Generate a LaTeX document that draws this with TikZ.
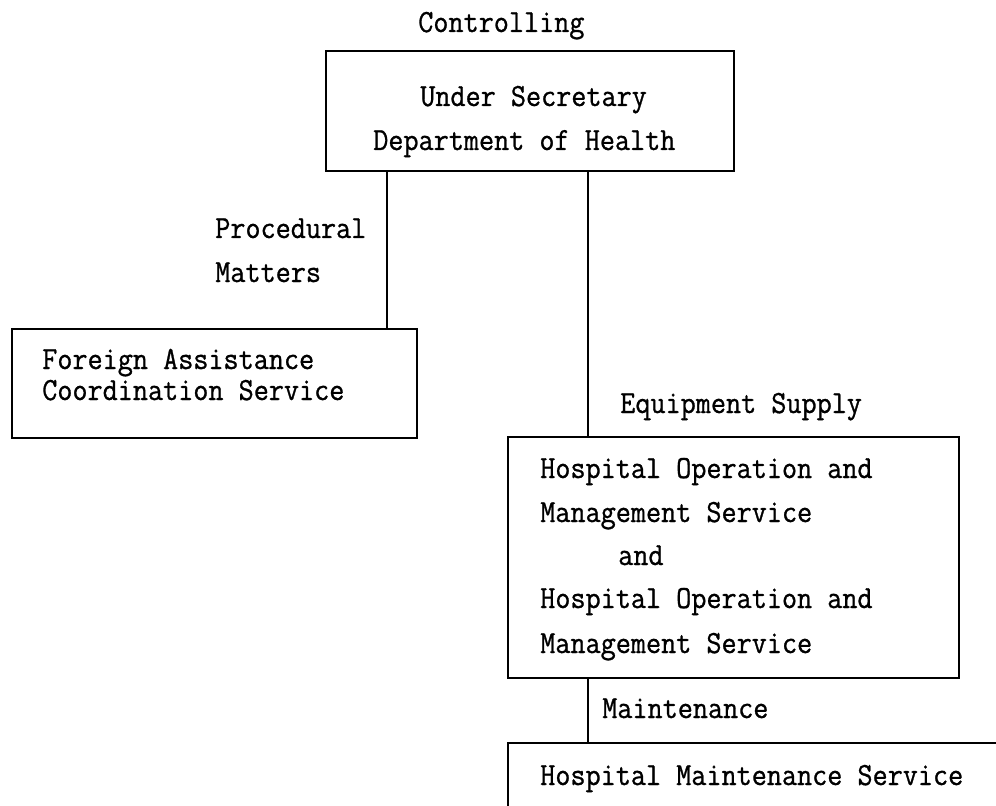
\documentclass[tikz,border=0pt]{standalone}
\usepackage{fontspec}
\usetikzlibrary{fit}
% typewriter face, slightly heavier and taller than the plain mono face
\newfontfamily\typeface{Latin Modern Mono}[FakeBold=0.9]
\newcommand\typed[1]{\scalebox{1}[1.1]{#1}}
\begin{document}
\begin{tikzpicture}[x=0.75pt,y=-0.75pt,
  box/.style={draw, line width=2.1pt, rectangle, inner sep=0pt},
  lbl/.style={anchor=base west, inner sep=0pt, font=\fontsize{22}{26}\selectfont\typeface},
  link/.style={line width=2.1pt}]
\clip (0,0) rectangle (996,806);
\fill[white] (0,0) rectangle (996,806);

% organisation boxes
\node[box, fit={(326,51) (734,171)}] (top) {};
\node[box, fit={(12,329) (417,438)}] (fa) {};
\node[box, fit={(508,437) (959,678)}] (hosp) {};
\node[box, fit={(508,743) (1030,860)}] (maint) {};

% x positions of the vertical links
\coordinate (xa) at (387,0);
\coordinate (xb) at (588,0);

\draw[link] (top.south -| xa) -- (fa.north -| xa);
\draw[link] (top.south -| xb) -- (hosp.north -| xb);
\draw[link] (hosp.south -| xb) -- (maint.north -| xb);

% relation labels
\node[lbl] (lctrl) at (418,32) {\typed{Controlling}};
\node[lbl] (lproc1) at (215,238) {\typed{Procedural}};
\node[lbl] (lproc2) at (215,282) {\typed{Matters}};
\node[lbl] (lequip) at (620,413) {\typed{Equipment Supply}};
\node[lbl] (lmaint) at (602,718) {\typed{Maintenance}};

% box texts
\node[lbl] (t1) at (420,106) {\typed{Under Secretary}};
\node[lbl] (t2) at (373,150) {\typed{Department of Health}};
\node[lbl] (f1) at (42,369) {\typed{Foreign Assistance}};
\node[lbl] (f2) at (42,400) {\typed{Coordination Service}};
\node[lbl] (h1) at (540,478) {\typed{Hospital Operation and}};
\node[lbl] (h2) at (540,522) {\typed{Management Service}};
\node[lbl] (h3) at (618,565) {\typed{and}};
\node[lbl] (h4) at (540,608) {\typed{Hospital Operation and}};
\node[lbl] (h5) at (540,653) {\typed{Management Service}};
\node[lbl] (m1) at (540,785) {\typed{Hospital Maintenance Service}};
\end{tikzpicture}
\end{document}
